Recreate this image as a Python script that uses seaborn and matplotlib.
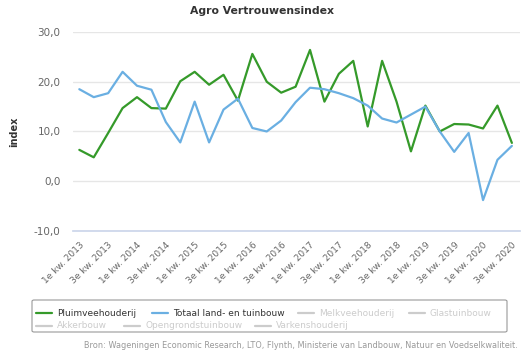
import numpy as np
import pandas as pd
import matplotlib
matplotlib.use("Agg")
import matplotlib.pyplot as plt
import seaborn as sns
from matplotlib.lines import Line2D
from matplotlib.patches import FancyBboxPatch

sns.set_theme(style="white")
plt.rcParams['font.family'] = ['DejaVu Sans']

# Kwartalen 1e kw. 2013 t/m 3e kw. 2020
kwartalen = [f"{q}e kw. {j}" for j in range(2013, 2021) for q in (1, 2, 3, 4)][:31]

pluimvee = [6.3, 4.8, 9.7, 14.7, 16.9, 14.7, 14.6, 20.1, 22.0, 19.4, 21.4, 16.2,
            25.6, 20.0, 17.8, 19.0, 26.4, 16.0, 21.6, 24.2, 11.0, 24.2, 16.0,
            6.0, 15.2, 10.0, 11.5, 11.4, 10.6, 15.2, 7.7]
totaal = [18.5, 16.9, 17.7, 22.0, 19.2, 18.4, 11.9, 7.8, 16.0, 7.8, 14.4, 16.6,
          10.7, 10.0, 12.2, 15.9, 18.8, 18.5, 17.7, 16.7, 15.2, 12.6, 11.8,
          13.4, 15.0, 10.0, 5.9, 9.7, -3.8, 4.3, 7.1]

groen = "#359a2a"
blauw = "#6aafe2"
grijs = "#666666"

df = pd.DataFrame({
    "pos": np.arange(len(kwartalen)),
    "Pluimveehouderij": pluimvee,
    "Totaal land- en tuinbouw": totaal,
}).melt(id_vars="pos", var_name="serie", value_name="index")

fig = plt.figure(figsize=(5.24, 3.52), dpi=100)
ax = fig.add_axes([0.139, 0.344, 0.853, 0.565])

sns.lineplot(data=df, x="pos", y="index", hue="serie",
             palette={"Pluimveehouderij": groen, "Totaal land- en tuinbouw": blauw},
             linewidth=1.6, legend=False, ax=ax)

ax.set_xlim(-0.45, len(kwartalen) - 0.45)
ax.set_ylim(-10, 30)
ax.set_yticks([-10, 0, 10, 20, 30])
ax.set_yticklabels([f"{v:.1f}".replace(".", ",") for v in [-10, 0, 10, 20, 30]],
                   fontsize=7.5, color=grijs)
ax.yaxis.grid(True, color="#e6e6e6", linewidth=1)
ax.set_axisbelow(True)

pos = list(range(0, len(kwartalen), 2))
ax.set_xticks(pos)
ax.set_xticklabels([kwartalen[i] for i in pos], rotation=45, ha="right",
                   rotation_mode="anchor", fontsize=6.5, color=grijs)
ax.tick_params(axis="x", length=5, color="#ccd6eb", width=1, pad=2)
ax.tick_params(axis="y", length=0, pad=9)

for s in ["top", "right", "left"]:
    ax.spines[s].set_visible(False)
ax.spines["bottom"].set_color("#ccd6eb")

ax.set_xlabel("")
ax.set_ylabel("index", fontsize=7, fontweight="bold", color="#333333")
ax.yaxis.set_label_coords(-0.12, 0.5)

fig.text(0.5, 0.97, "Agro Vertrouwensindex", ha="center", va="center",
         fontsize=7.8, fontweight="bold", color="#333333")

# legenda met kader
kader = FancyBboxPatch((32 / 524, 1 - 332 / 352), 475 / 524, 32 / 352,
                       boxstyle="round,pad=0,rounding_size=0.004",
                       transform=fig.transFigure, facecolor="white",
                       edgecolor="#999999", linewidth=0.8)
fig.patches.append(kader)

items = [
    ("Pluimveehouderij", groen, "#333333", 36, 313),
    ("Totaal land- en tuinbouw", blauw, "#333333", 152, 313),
    ("Melkveehouderij", "#cccccc", "#cccccc", 298, 313),
    ("Glastuinbouw", "#cccccc", "#cccccc", 409, 313),
    ("Akkerbouw", "#cccccc", "#cccccc", 36, 326),
    ("Opengrondstuinbouw", "#cccccc", "#cccccc", 124, 326),
    ("Varkenshouderij", "#cccccc", "#cccccc", 255, 326),
]
for naam, lijnkleur, tekstkleur, x, y in items:
    fy = 1 - y / 352
    fig.add_artist(Line2D([x / 524, (x + 16) / 524], [fy, fy],
                          transform=fig.transFigure, color=lijnkleur, linewidth=1.6))
    fig.text((x + 21) / 524, fy, naam, ha="left", va="center",
             fontsize=6.5, color=tekstkleur)

fig.text(518 / 524, 1 - 345 / 352,
         "Bron: Wageningen Economic Research, LTO, Flynth, Ministerie van Landbouw, Natuur en Voedselkwaliteit.",
         ha="right", va="center", fontsize=5.9, color="#999999")

fig.savefig("out.png", dpi=100)
